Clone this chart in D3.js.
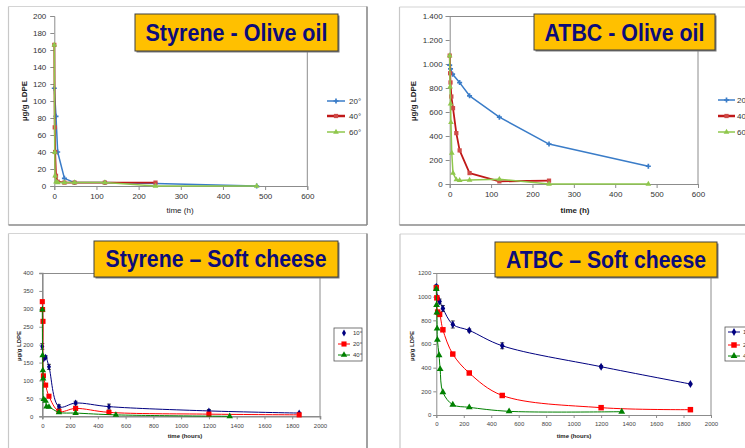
<!DOCTYPE html>
<html><head><meta charset="utf-8">
<script src="https://cdn.jsdelivr.net/npm/d3@7"></script>
<style>
body{margin:0;background:#fff;overflow:hidden}
svg{display:block}
text{font-family:"Liberation Sans",Arial,sans-serif}
</style>
</head><body><svg id="c" width="745" height="448"></svg>
<script>
// ---------------- data ----------------
// Styrene – Olive oil (time h, µg/g LDPE)
const styOilLabels = ["20°", "40°", "60°"];
const styOil20 = [[0,115],[4,82],[8,40],[24,9],[48,4],[120,4],[240,3],[480,0]];
const styOil40 = [[0,166],[1,69],[2,40],[4,12],[8,5],[24,4],[48,4],[120,4],[240,4]];
const styOil60 = [[0,166],[1,40],[2,12],[4,5],[8,4],[24,4],[48,4],[120,4],[240,0],[480,0]];
const styOilXTicks = [0,100,200,300,400,500,600];
const styOilYTicks = [0,20,40,60,80,100,120,140,160,180,200];

// ATBC – Olive oil
const atbcOilLabels = ["20°", "40°", "60°"];
const atbcOil20 = [[0,990],[2,960],[7,915],[24,845],[48,735],[120,557],[240,333],[480,148]];
const atbcOil40 = [[0,1070],[1,923],[2,846],[4,729],[8,632],[16,424],[24,280],[48,91],[120,22],[240,28]];
const atbcOil60 = [[0,1070],[1,810],[2,668],[3,513],[5,258],[8,91],[16,36],[24,30],[48,33],[120,40],[240,0],[480,0]];
const atbcOilXTicks = [0,100,200,300,400,500,600];
const atbcOilYTicks = [0,200,400,600,800,1000,1200,1400];

// Styrene – Soft cheese (time hours)
const styCheeseLabels = ["10°", "20°", "40°"];
const styCheese10 = [[0,195],[10,160],[24,165],[48,138],[120,27],[240,37],[480,27],[1200,15],[1850,9]];
const styCheese10Err = [8,0,4,7,5,5,7,4,2];
const styCheese20 = [[0,320],[2,298],[5,265],[8,113],[24,87],[48,56],[120,14],[240,22],[480,11],[1200,6],[1850,4]];
const styCheese40 = [[0,298],[2,170],[4,128],[6,105],[10,48],[24,43],[30,27],[48,26],[120,11],[240,9],[530,4],[1350,0]];
const styCheeseXTicks = [0,200,400,600,800,1000,1200,1400,1600,1800,2000];
const styCheeseYTicks = [0,50,100,150,200,250,300,350,400];

// ATBC – Soft cheese
const atbcCheeseLabels = ["10°", "20°", "40°"];
const atbcCheese10 = [[0,1085],[10,990],[24,960],[48,900],[120,765],[240,715],[480,585],[1200,408],[1850,262]];
const atbcCheese10Err = [15,0,20,25,30,12,25,10,6];
const atbcCheese20 = [[0,1075],[4,990],[10,870],[24,850],[48,720],[120,515],[240,355],[480,165],[1200,62],[1850,45]];
const atbcCheese40 = [[0,1065],[2,930],[4,865],[6,730],[8,635],[20,505],[28,388],[48,192],[120,87],[240,65],[530,31],[1350,28]];
const atbcCheeseXTicks = [0,200,400,600,800,1000,1200,1400,1600,1800,2000];
const atbcCheeseYTicks = [0,200,400,600,800,1000,1200];

// ---------------- drawing ----------------
const svg = d3.select("#c");
const euro = d3.formatLocale({decimal:",", thousands:".", grouping:[3], currency:["",""]}).format(",d");

function frame(l, t, r, b) {
  const g = svg.append("g");
  g.append("line").attr("x1", l).attr("y1", t).attr("x2", r).attr("y2", t).attr("stroke", "#d4d4d4").attr("stroke-width", 1.2);
  g.append("line").attr("x1", l).attr("y1", t).attr("x2", l).attr("y2", b).attr("stroke", "#c8c8c8").attr("stroke-width", 1.2);
  g.append("line").attr("x1", r).attr("y1", t).attr("x2", r).attr("y2", b).attr("stroke", "#8a8a8a").attr("stroke-width", 1.6);
  g.append("line").attr("x1", l).attr("y1", b).attr("x2", r).attr("y2", b).attr("stroke", "#8a8a8a").attr("stroke-width", 1.6);
}
frame(8.5, 6.5, 367, 225);
frame(399.5, 7, 760, 225);
frame(8.5, 233.5, 367, 460);
frame(400, 234, 760, 460);

function marker(g, type, size, fill, stroke) {
  return g.append("path").attr("d", d3.symbol().type(type).size(size)()).attr("fill", fill).attr("stroke", stroke || "none").attr("stroke-width", 0.5);
}

function panel(cfg) {
  const x = d3.scaleLinear().domain(cfg.xDomain).range([cfg.x0, cfg.x1]);
  const y = d3.scaleLinear().domain(cfg.yDomain).range([cfg.y0, cfg.y1]);
  const g = svg.append("g");

  if (cfg.borderTop) g.append("line").attr("x1", cfg.x0).attr("x2", cfg.x1).attr("y1", cfg.y1 + 0.5).attr("y2", cfg.y1 + 0.5).attr("stroke", cfg.borderColor).attr("stroke-width", 1);
  g.append("line").attr("x1", cfg.x1).attr("x2", cfg.x1).attr("y1", cfg.y1).attr("y2", cfg.y0).attr("stroke", cfg.borderColor).attr("stroke-width", 1);

  const ax = g.append("g").attr("transform", `translate(0,${cfg.y0})`)
    .call(d3.axisBottom(x).tickValues(cfg.xTicks).tickSize(cfg.tick).tickPadding(cfg.xPad).tickFormat(d3.format("d")));
  const ay = g.append("g").attr("transform", `translate(${cfg.x0},0)`)
    .call(d3.axisLeft(y).tickValues(cfg.yTicks).tickSize(cfg.tick).tickPadding(cfg.yPad).tickFormat(cfg.yFormat));
  [ax, ay].forEach(a => {
    a.select(".domain").attr("stroke", cfg.axisColor).attr("stroke-width", cfg.axisWidth);
    a.selectAll(".tick line").attr("stroke", cfg.axisColor);
    a.selectAll(".tick text").attr("fill", cfg.tickColor).style("font-size", cfg.tickFont + "px").style("font-family", '"Liberation Sans",Arial,sans-serif');
  });

  g.append("text").attr("x", cfg.xTitle[0]).attr("y", cfg.xTitle[1]).attr("text-anchor", "middle")
    .style("font-size", cfg.titleFont + "px").style("font-weight", cfg.xTitleBold ? "bold" : "normal").attr("fill", "#222").text(cfg.xLabel);
  g.append("text").attr("transform", `translate(${cfg.yTitle[0]},${cfg.yTitle[1]}) rotate(-90)`).attr("text-anchor", "middle")
    .style("font-size", cfg.titleFont + "px").style("font-weight", "bold").attr("fill", "#222").text("µg/g LDPE");

  const line = d3.line().x(d => x(d[0])).y(d => y(d[1])).curve(cfg.curve);
  cfg.series.forEach(s => {
    g.append("path").datum(s.data).attr("d", line).attr("fill", "none").attr("stroke", s.color).attr("stroke-width", s.width).attr("stroke-linejoin", "round");
    if (s.err) {
      s.data.forEach((d, i) => {
        const e = s.err[i];
        if (!e) return;
        const px = x(d[0]), yt = y(d[1] + e), yb = y(d[1] - e);
        g.append("line").attr("x1", px).attr("x2", px).attr("y1", yt).attr("y2", yb).attr("stroke", "#222").attr("stroke-width", 0.8);
        g.append("line").attr("x1", px - 2).attr("x2", px + 2).attr("y1", yt).attr("y2", yt).attr("stroke", "#222").attr("stroke-width", 0.8);
        g.append("line").attr("x1", px - 2).attr("x2", px + 2).attr("y1", yb).attr("y2", yb).attr("stroke", "#222").attr("stroke-width", 0.8);
      });
    }
    s.data.forEach(d => {
      marker(g, s.type, s.size, s.mfill, s.mstroke).attr("transform", `translate(${x(d[0])},${y(d[1])})`);
    });
  });

  const lg = g.append("g");
  if (cfg.legendBox) {
    lg.append("rect").attr("x", cfg.legendBox[0]).attr("y", cfg.legendBox[1]).attr("width", cfg.legendBox[2]).attr("height", cfg.legendBox[3])
      .attr("fill", "#fff").attr("stroke", "#555").attr("stroke-width", 0.8);
  }
  cfg.series.forEach((s, i) => {
    const ly = cfg.legendY[i];
    if (!s.noLegendLine) lg.append("line").attr("x1", cfg.legendX[0]).attr("x2", cfg.legendX[1]).attr("y1", ly).attr("y2", ly).attr("stroke", s.color).attr("stroke-width", s.legendWidth || s.width);
    marker(lg, s.type, s.size, s.mfill, s.mstroke).attr("transform", `translate(${(cfg.legendX[0] + cfg.legendX[1]) / 2},${ly})`);
    lg.append("text").attr("x", cfg.legendX[2]).attr("y", ly).attr("dy", "0.35em").style("font-size", cfg.legendFont + "px").attr("fill", "#333").text(s.label);
  });

  const t = cfg.title;
  g.append("rect").attr("x", t.x + 1.5).attr("y", t.y + 1.5).attr("width", t.w).attr("height", t.h).attr("fill", "#7a7a7a");
  g.append("rect").attr("x", t.x).attr("y", t.y).attr("width", t.w).attr("height", t.h).attr("fill", "#ffc000").attr("stroke", "#404040").attr("stroke-width", 1);
  g.append("text").attr("x", t.x + t.w / 2).attr("y", t.base).attr("text-anchor", "middle")
    .attr("textLength", t.len).attr("lengthAdjust", "spacingAndGlyphs")
    .style("font-size", "23px").style("font-weight", "bold").attr("fill", "#0c0c7a").text(t.text);
}

const blueO = "#3a7cc8", redO = "#c01818", redM = "#cf4a47", greenO = "#8fc74c";
const navy = "#000080", redC = "#ff0000", greenC = "#008000";

panel({
  xDomain:[0,600], yDomain:[0,200], x0:54.3, x1:307.3, y0:186, y1:16,
  xTicks:styOilXTicks, yTicks:styOilYTicks, yFormat:d3.format("d"),
  tick:4, xPad:3, yPad:4, tickFont:8, tickColor:"#333", axisColor:"#8c8c8c", axisWidth:1,
  borderTop:false, borderColor:"#8c8c8c",
  xLabel:"time (h)", xTitle:[180,213], xTitleBold:false, yTitle:[27,101], titleFont:8,
  curve:d3.curveLinear,
  series:[
    {label:styOilLabels[0], data:styOil20, color:blueO, width:1.5, type:d3.symbolCross, size:14, mfill:blueO},
    {label:styOilLabels[1], data:styOil40, color:redO, width:1.8, legendWidth:2.5, type:d3.symbolSquare, size:18, mfill:redM},
    {label:styOilLabels[2], data:styOil60, color:greenO, width:1.5, type:d3.symbolTriangle, size:14, mfill:greenO}
  ],
  legendX:[327,345,349], legendY:[101,116,132], legendFont:8,
  title:{x:135, y:14, w:203, h:37, base:41, len:182, text:"Styrene - Olive oil"}
});

panel({
  xDomain:[0,600], yDomain:[0,1400], x0:449.7, x1:698, y0:184, y1:16,
  xTicks:atbcOilXTicks, yTicks:atbcOilYTicks, yFormat:euro,
  tick:4, xPad:3, yPad:3, tickFont:8, tickColor:"#333", axisColor:"#8c8c8c", axisWidth:1,
  borderTop:true, borderColor:"#8c8c8c",
  xLabel:"time (h)", xTitle:[575,213], xTitleBold:true, yTitle:[416,101], titleFont:8,
  curve:d3.curveLinear,
  series:[
    {label:atbcOilLabels[0], data:atbcOil20, color:blueO, width:1.5, type:d3.symbolCross, size:14, mfill:blueO},
    {label:atbcOilLabels[1], data:atbcOil40, color:redO, width:1.8, legendWidth:2.5, type:d3.symbolSquare, size:18, mfill:redM},
    {label:atbcOilLabels[2], data:atbcOil60, color:greenO, width:1.5, type:d3.symbolTriangle, size:14, mfill:greenO}
  ],
  legendX:[718,735,737], legendY:[100,116,132], legendFont:8,
  title:{x:534, y:14, w:181, h:36, base:41, len:160, text:"ATBC - Olive oil"}
});

panel({
  xDomain:[0,2000], yDomain:[0,400], x0:42.3, x1:320, y0:416.3, y1:273,
  xTicks:styCheeseXTicks, yTicks:styCheeseYTicks, yFormat:d3.format("d"),
  tick:3, xPad:4, yPad:6, tickFont:6, tickColor:"#444", axisColor:"#8c8c8c", axisWidth:1.6,
  borderTop:true, borderColor:"#8c8c8c",
  xLabel:"time (hours)", xTitle:[185,438], xTitleBold:true, yTitle:[21,346], titleFont:6,
  curve:d3.curveCatmullRom.alpha(0.5),
  series:[
    {label:styCheeseLabels[0], data:styCheese10, err:styCheese10Err, color:navy, width:1, type:d3.symbolDiamond, size:14, mfill:navy, noLegendLine:true},
    {label:styCheeseLabels[1], data:styCheese20, color:redC, width:1, type:d3.symbolSquare, size:26, mfill:redC},
    {label:styCheeseLabels[2], data:styCheese40, color:greenC, width:1, type:d3.symbolTriangle, size:18, mfill:greenC}
  ],
  legendBox:[334,328,28,33], legendX:[338,350,353], legendY:[333,344,355], legendFont:6,
  title:{x:94, y:241, w:244, h:36, base:267, len:221, text:"Styrene – Soft cheese"}
});

panel({
  xDomain:[0,2000], yDomain:[0,1200], x0:436.3, x1:711, y0:415, y1:273,
  xTicks:atbcCheeseXTicks, yTicks:atbcCheeseYTicks, yFormat:d3.format("d"),
  tick:3, xPad:4, yPad:2, tickFont:6, tickColor:"#444", axisColor:"#8c8c8c", axisWidth:1,
  borderTop:true, borderColor:"#8c8c8c",
  xLabel:"time (hours)", xTitle:[574,438], xTitleBold:true, yTitle:[414,346], titleFont:6,
  curve:d3.curveCatmullRom.alpha(0.5),
  series:[
    {label:atbcCheeseLabels[0], data:atbcCheese10, err:atbcCheese10Err, color:navy, width:1, type:d3.symbolDiamond, size:18, mfill:navy},
    {label:atbcCheeseLabels[1], data:atbcCheese20, color:redC, width:1, type:d3.symbolSquare, size:30, mfill:redC},
    {label:atbcCheeseLabels[2], data:atbcCheese40, color:greenC, width:1, type:d3.symbolTriangle, size:20, mfill:greenC}
  ],
  legendBox:[725,327,40,34], legendX:[728,740,743], legendY:[332,345,356], legendFont:6,
  title:{x:495, y:242, w:222, h:35, base:268, len:200, text:"ATBC – Soft cheese"}
});
</script>
</body></html>
